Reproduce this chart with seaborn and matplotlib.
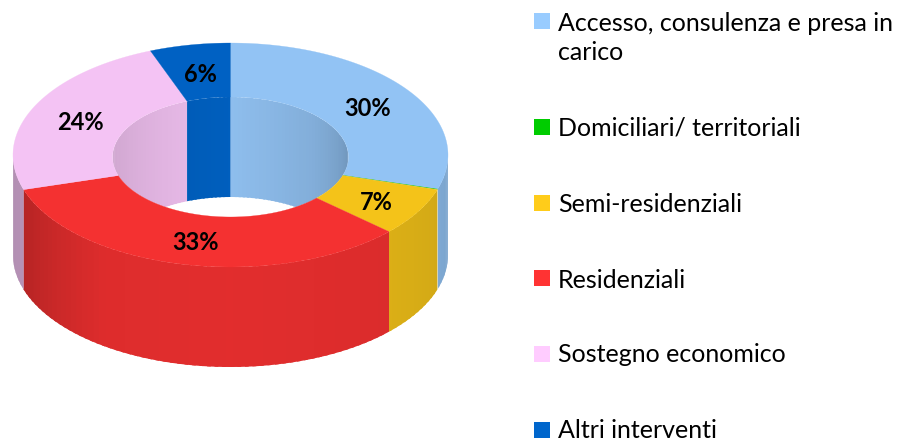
import numpy as np
import pandas as pd
import matplotlib
matplotlib.use("Agg")
import matplotlib.pyplot as plt
from matplotlib.patches import Ellipse
import seaborn as sns

# ----- DATA -----
categorie = [
    "Accesso, consulenza e presa in\ncarico",
    "Domiciliari/ territoriali",
    "Semi-residenziali",
    "Residenziali",
    "Sostegno economico",
    "Altri interventi",
]
valori = [29.9, 0.1, 7, 33, 24, 6]
colori = ["#99CCFF", "#00CC00", "#FFCC1A", "#FF3333", "#FFCCFF", "#0066CC"]

# ----- LAYOUT (pixels) -----
cx, cy_out, cy_in = 230.5, 155, 157
rx_out, ry_out = 217.5, 112
rx_in, ry_in = 118, 60
prof = 100  # height of the ring
legenda_y = [38, 128, 204, 280, 355, 431]
quad_y = [21, 127, 203, 278, 354, 430]
passo = 2.0  # degrees per shaded strip


def punti(theta, rx, ry, cy):
    # theta in degrees, clockwise from 12 o'clock
    t = np.radians(theta)
    return cx + rx * np.sin(t), cy - ry * np.cos(t)


def scurisci(colore, f):
    return tuple(np.array(matplotlib.colors.to_rgb(colore)) * f)


def striscia(t0, t1, rx, ry, cy, colore, z):
    # one vertical strip of a wall, the next strip paints over the overlap
    t = np.linspace(t0, t1, 4)
    x, y = punti(t, rx, ry, cy)
    return ax.fill(np.r_[x, x[::-1]], np.r_[y, y[::-1] + prof], color=colore, lw=0, zorder=z)[0]


sns.set_theme(style="white")
plt.rcParams["font.family"] = ["Lato", "DejaVu Sans"]

fig = plt.figure(figsize=(9, 4.41), dpi=100)
ax = fig.add_axes([0, 0, 1, 1])

bordi = np.concatenate([[0], np.cumsum(valori)]) * 360 / sum(valori)
fette = list(zip(bordi[:-1], bordi[1:], colori))

# outer side, only the front half can be seen
for a, b, col in fette:
    a2, b2 = max(a, 90), min(b, 270)
    if b2 - a2 < 1:  # the green sliver does not show on the side
        continue
    for t0 in np.arange(a2, b2, passo):
        t1 = min(t0 + passo * 1.5, b2)
        f = np.interp(t0 + passo / 2, [90, 110, 135, 180, 215, 252, 270],
                      [0.80, 0.83, 0.86, 0.885, 0.87, 0.71, 0.70])
        striscia(t0, t1, rx_out, ry_out, cy_out, scurisci(col, f), 1)

# inner wall, only the back half can be seen, clipped on the hole
buco = Ellipse((cx, cy_in), 2 * rx_in, 2 * ry_in, transform=ax.transData, fc="none", ec="none")
ax.add_patch(buco)
for a, b, col in fette:
    for lim_a, lim_b, off in [(a, min(b, 90), 0), (max(a, 270), b, -360)]:
        if lim_b - lim_a <= 0:
            continue
        for t0 in np.arange(lim_a, lim_b, passo):
            t1 = min(t0 + passo * 1.5, lim_b)
            f = np.interp(t0 + passo / 2 + off, [-90, -22, 0, 45, 90],
                          [0.80, 0.90, 0.93, 0.85, 0.72])
            p = striscia(t0, t1, rx_in, ry_in, cy_in, scurisci(col, f), 2)
            p.set_clip_path(buco)

# top face
for a, b, col in fette:
    t = np.linspace(a, b, max(int(b - a), 2) + 1)
    xo, yo = punti(t, rx_out, ry_out, cy_out)
    xi, yi = punti(t[::-1], rx_in, ry_in, cy_in)
    ax.fill(np.r_[xo, xi], np.r_[yo, yi], color=scurisci(col, 0.955), lw=0.2 if b - a > 1 else 0, zorder=3)

# percentages on the ring
for (a, b, _), v in zip(fette, valori):
    if v < 1:
        continue
    x, y = punti((a + b) / 2, (rx_out + rx_in) / 2, (ry_out + ry_in) / 2, (cy_out + cy_in) / 2)
    ax.text(x + 1.5, y + 3, f"{v:.0f}%", ha="center", va="center", fontsize=17,
            fontweight="bold", color="black", zorder=4)

# legend
leg = pd.DataFrame({"x": 542, "y": quad_y, "categoria": categorie})
sns.scatterplot(data=leg, x="x", y="y", hue="categoria", palette=colori, marker="s",
                s=125, linewidth=0, legend=False, ax=ax, zorder=4)
ax.set_xlim(0, 900)
ax.set_ylim(441, 0)
ax.axis("off")
for testo, y in zip(categorie, legenda_y):
    ax.text(558, y, testo, ha="left", va="center", fontsize=18, color="black",
            linespacing=1.3, zorder=4)

fig.savefig("out.png", dpi=100)
